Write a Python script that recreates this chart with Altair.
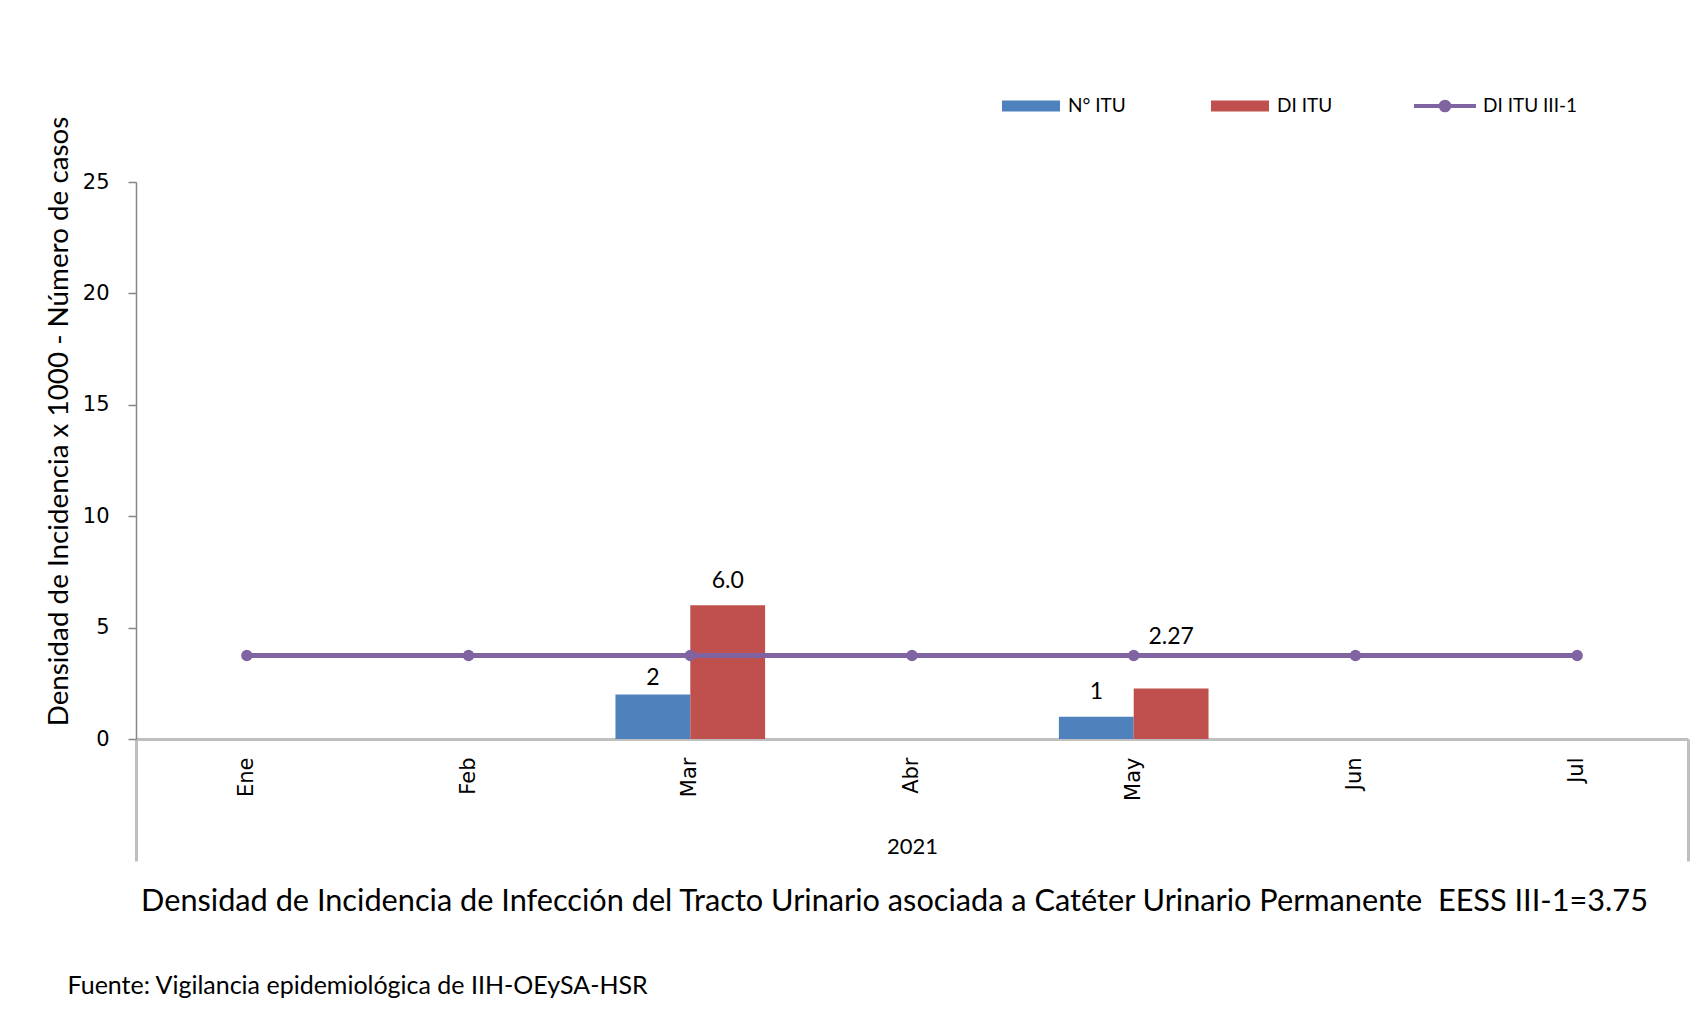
import altair as alt
import pandas as pd

# ---- data ----
months = ["Ene", "Feb", "Mar", "Abr", "May", "Jun", "Jul"]
n_itu = [0, 0, 2, 0, 1, 0, 0]
di_itu = [0, 0, 6.0, 0, 2.27, 0, 0]
di_ref = [3.75, 3.75, 3.75, 3.75, 3.75, 3.75, 3.75]
n_itu_labels = ["", "", "2", "", "1", "", ""]
di_itu_labels = ["", "", "6.0", "", "2.27", "", ""]
series_names = ["N° ITU", "DI ITU"]
line_name = "DI ITU III-1"
year_label = ["2021"]

y_ticks = [0, 5, 10, 15, 20, 25]

title_text = ("Densidad de Incidencia de Infección del Tracto Urinario asociada a "
              "Catéter Urinario Permanente \u00a0EESS III-1=3.75")
source_text = "Fuente: Vigilancia epidemiológica de IIH-OEySA-HSR"
y_title = "Densidad de Incidencia x 1000 - Número de casos"

BLUE = "#4F81BD"
RED = "#C0504D"
PURPLE = "#8064A2"
GRAY = "#BFBFBF"

# ---- tables built from the arrays ----
bars_df = pd.DataFrame(
    {
        "month": months * 2,
        "series": [series_names[0]] * len(months) + [series_names[1]] * len(months),
        "value": n_itu + di_itu,
        "label": n_itu_labels + di_itu_labels,
    }
)
line_df = pd.DataFrame({"month": months, "value": di_ref, "series": [line_name] * len(months)})
year_df = pd.DataFrame({"year": year_label})

W = 1552
H = 557

x_main = alt.X(
    "month:N",
    sort=months,
    scale=alt.Scale(domain=months, paddingInner=0.325, paddingOuter=0.1625),
    axis=alt.Axis(
        title=title_text,
        titleFont="Lato",
        titleFontSize=30.7,
        titleFontWeight="normal",
        titleColor="#000000",
        titleX=758,
        titleY=162,
        titleAlign="center",
        titleBaseline="middle",
        titleLimit=1700,
        labelAngle=270,
        labelFont="DejaVu Sans",
        labelFontSize=21,
        labelColor="#000000",
        labelPadding=18,
        ticks=False,
        tickSize=0,
        domainColor=GRAY,
        domainWidth=3,
        grid=False,
    ),
)

y_main = alt.Y(
    "value:Q",
    scale=alt.Scale(domain=[0, 25], nice=False),
    axis=alt.Axis(
        values=y_ticks,
        title=y_title,
        titleFont="Lato",
        titleFontSize=27.8,
        titleFontWeight="normal",
        titleColor="#000000",
        titleAngle=270,
        titleX=-77,
        titleY=239,
        titleAlign="center",
        titleBaseline="middle",
        titleLimit=800,
        labelFont="DejaVu Sans",
        labelFontSize=21,
        labelColor="#000000",
        labelPadding=19,
        tickSize=8,
        tickColor="#868686",
        tickWidth=1.5,
        domainColor="#868686",
        domainWidth=1.5,
        grid=False,
    ),
)

x_off = alt.XOffset("series:N", sort=series_names,
                    scale=alt.Scale(domain=series_names, paddingInner=0, paddingOuter=0))

bars = alt.Chart(bars_df).mark_bar().encode(
    x=x_main,
    y=y_main,
    xOffset=x_off,
    color=alt.Color(
        "series:N",
        sort=series_names,
        scale=alt.Scale(domain=series_names, range=[BLUE, RED]),
        title=None,
        legend=alt.Legend(
            orient="none",
            legendX=866,
            legendY=-105,
            direction="horizontal",
            symbolType="M-1,-0.19H1V0.19H-1Z",
            symbolSize=3364,
            symbolStrokeWidth=0,
            labelFont="Lato",
            labelFontSize=19,
            labelColor="#000000",
            labelOffset=8,
            columnPadding=85,
            padding=0,
        ),
    ),
)


def label_layer(series, month, dy):
    return (
        alt.Chart(bars_df)
        .transform_filter((alt.datum.series == series) & (alt.datum.month == month))
        .mark_text(font="Lato", fontSize=23, color="#000000", baseline="middle", dy=dy)
        .encode(x=alt.X("month:N", sort=months), y="value:Q", xOffset=x_off, text="label:N")
    )


labels = [
    label_layer(series_names[0], "Mar", -16),
    label_layer(series_names[1], "Mar", -24),
    label_layer(series_names[0], "May", -25),
    label_layer(series_names[1], "May", -51),
]

line = alt.Chart(line_df).mark_line(strokeWidth=5).encode(
    x=alt.X("month:N", sort=months),
    y="value:Q",
    stroke=alt.Stroke(
        "series:N",
        scale=alt.Scale(domain=[line_name], range=[PURPLE]),
        title=None,
        legend=alt.Legend(
            orient="none",
            legendX=1276,
            legendY=-109,
            direction="horizontal",
            symbolType="M-1,0H1M0.14,0A0.14,0.14,0,1,1,-0.14,0A0.14,0.14,0,1,1,0.14,0",
            symbolSize=3844,
            symbolStrokeWidth=4,
            symbolFillColor=PURPLE,
            labelFont="Lato",
            labelFontSize=19,
            labelColor="#000000",
            labelOffset=5,
            padding=0,
        ),
    ),
)

points = alt.Chart(line_df).mark_point(filled=True, size=130, color=PURPLE, opacity=1).encode(
    x=alt.X("month:N", sort=months),
    y="value:Q",
)

main = alt.layer(bars, line, points, *labels)

year_layer = alt.Chart(year_df).mark_point(opacity=0).encode(
    x=alt.X(
        "year:N",
        scale=alt.Scale(paddingInner=0, paddingOuter=0),
        axis=alt.Axis(
            orient="bottom",
            domain=False,
            ticks=True,
            tickBand="extent",
            tickSize=122,
            tickColor=GRAY,
            tickWidth=3,
            labelFont="Lato",
            labelFontSize=22,
            labelColor="#000000",
            labelPadding=-15,
            labelBaseline="middle",
            labelAngle=0,
            title=source_text,
            titleFont="Lato",
            titleFontSize=25,
            titleFontWeight="normal",
            titleColor="#000000",
            titleX=-69,
            titleY=246,
            titleAlign="left",
            titleBaseline="middle",
            titleLimit=1000,
            grid=False,
        ),
    )
)

chart = (
    alt.layer(main, year_layer)
    .resolve_scale(x="independent")
    .properties(
        width=W,
        height=H,
        autosize=alt.AutoSizeParams(type="none"),
        padding={"left": 128, "top": 174, "right": 2, "bottom": 265},
        background="#FFFFFF",
    )
    .configure_view(stroke=None)
)

chart.save("out.html", embed_options={"renderer": "svg", "actions": False})
